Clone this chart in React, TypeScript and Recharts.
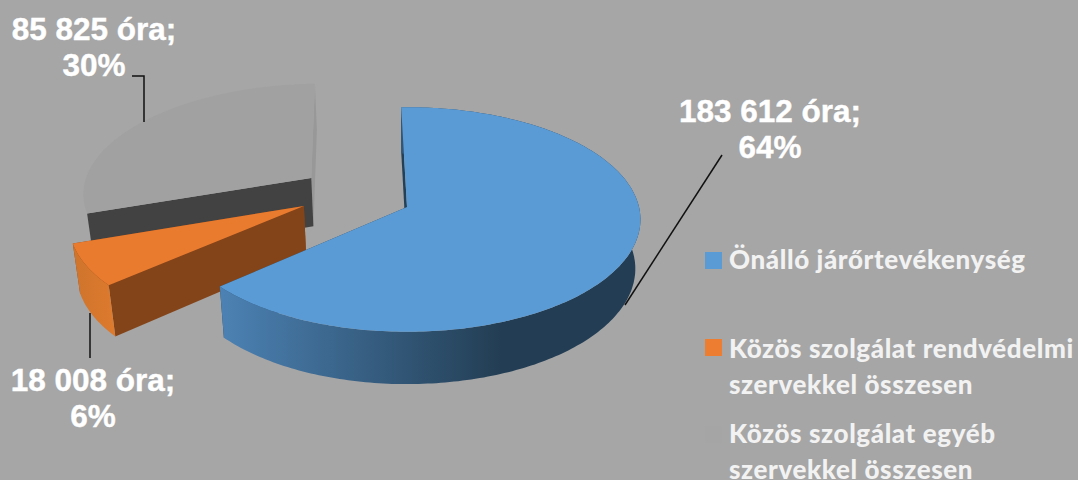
import React from 'react';
import { PieChart, Pie, Legend } from 'recharts';

const categories = [
  'Önálló járőrtevékenység',
  'Közös szolgálat rendvédelmi\nszervekkel összesen',
  'Közös szolgálat egyéb\nszervekkel összesen',
];
const hours = [183612, 18008, 85825];
const colors = ['#5b9bd5', '#ed7d31', '#a5a5a5'];

// drawn back to front, going counter-clockwise
const pieData = [2, 1, 0].map((i) => ({ name: categories[i], value: hours[i], fill: colors[i] }));

const PERSPECTIVE = 0.111;
const TILT = 0.478;
const DEPTH = 49;
const BOTTOM_SCALE = 0.978;

// per slice look: explode offset in disc units, side colours
const sliceLook: Record<string, any> = {
  [categories[0]]: { dx: 0, dy: 0, top: '#5b9bd5', outer: 'url(#blueWall)', first: '#234056', last: '#234056' },
  [categories[1]]: { dx: -0.445, dy: -0.01, top: '#e97b2f', outer: 'url(#orangeWall)', first: '#84441a', last: '#84441a' },
  [categories[2]]: { dx: -0.425, dy: -0.269, top: '#a1a1a1', outer: '#a9a9a9', first: '#989898', last: '#424242', outerFirst: true },
};

const labelLook: Record<string, any> = {
  [categories[0]]: { x: 770, y: 122, leader: '722,155 625,305' },
  [categories[1]]: { x: 93, y: 391, leader: '90,313 90,358' },
  [categories[2]]: { x: 94, y: 40, leader: '132,76 144,76 144,122' },
};

const Slice3D = (props: any) => {
  const { cx, cy, outerRadius: R, startAngle, endAngle, name } = props;
  const look = sliceLook[name];

  const top = (X: number, Y: number) => {
    const f = 1 / (1 - PERSPECTIVE * (Y + look.dy));
    return [cx + R * (X + look.dx) * f, cy + TILT * R * (Y + look.dy) * f, f];
  };
  const bottom = (X: number, Y: number) => {
    const [x, y, f] = top(X, Y);
    return [cx + (x - cx) * BOTTOM_SCALE, cy + (y - cy) * BOTTOM_SCALE + DEPTH * f, f];
  };
  const onRim = (a: number) => [Math.cos((a * Math.PI) / 180), -Math.sin((a * Math.PI) / 180)];

  const steps = Math.max(2, Math.ceil(Math.abs(endAngle - startAngle)));
  const rim: number[][] = [];
  for (let i = 0; i <= steps; i++) {
    rim.push(onRim(startAngle + ((endAngle - startAngle) * i) / steps));
  }

  const toPath = (pts: number[][]) => 'M' + pts.map((p) => `${p[0].toFixed(1)},${p[1].toFixed(1)}`).join('L') + 'Z';
  const first = rim[0];
  const last = rim[rim.length - 1];

  const firstWall = toPath([top(0, 0), top(first[0], first[1]), bottom(first[0], first[1]), bottom(0, 0)]);
  const lastWall = toPath([top(0, 0), top(last[0], last[1]), bottom(last[0], last[1]), bottom(0, 0)]);
  const outerWall = toPath([
    ...rim.map((p) => top(p[0], p[1])),
    ...rim.slice().reverse().map((p) => bottom(p[0], p[1])),
  ]);
  const topFace = toPath([top(0, 0), ...rim.map((p) => top(p[0], p[1]))]);

  return (
    <g>
      {look.outerFirst && <path d={outerWall} fill={look.outer} />}
      <path d={firstWall} fill={look.first} />
      <path d={lastWall} fill={look.last} />
      {!look.outerFirst && <path d={outerWall} fill={look.outer} />}
      <path d={topFace} fill={look.top} />
    </g>
  );
};

const SliceLabel = (props: any) => {
  const { name, value, percent } = props;
  const look = labelLook[name];
  const amount = String(value).replace(/\B(?=(\d{3})+(?!\d))/g, ' ');
  return (
    <g>
      <polyline points={look.leader} fill="none" stroke="#111" strokeWidth={1.5} />
      <text x={look.x} y={look.y} textAnchor="middle" fill="#fff" stroke="#fff" strokeWidth={0.4} fontFamily="'Liberation Sans'" fontWeight={700} fontSize={31.5}>
        <tspan x={look.x}>{amount} óra;</tspan>
        <tspan x={look.x} dy={36}>{Math.round(percent * 100)}%</tspan>
      </text>
    </g>
  );
};

const legendRows = [
  { top: 241, swatch: 11 },
  { top: 330, swatch: 9 },
  { top: 415, swatch: 11 },
];

const LegendBlock = () => (
  <div style={{ position: 'relative', width: 372, height: 238 }}>
    {categories.map((c, i) => (
      <div key={c} style={{ position: 'absolute', left: 0, top: legendRows[i].top - 241 }}>
        <div style={{ position: 'absolute', left: 0, top: legendRows[i].swatch, width: 17, height: 17, background: colors[i] }} />
        <div
          style={{
            position: 'absolute',
            left: 24,
            top: 0,
            whiteSpace: 'pre',
            color: '#f2f2f2',
            fontFamily: 'Lato',
            fontWeight: 900,
            fontSize: 26,
            letterSpacing: 0.6,
            lineHeight: '36px',
          }}
        >
          {c}
        </div>
      </div>
    ))}
  </div>
);

export default function App() {
  return (
    <div style={{ position: 'absolute', left: 0, top: 0, width: 1078, height: 480, background: '#a6a6a6', overflow: 'hidden' }}>
      <PieChart width={1078} height={480} margin={{ top: 0, right: 0, bottom: 0, left: 0 }}>
        <defs>
          <linearGradient id="blueWall" gradientUnits="userSpaceOnUse" x1={220} x2={500} y1={0} y2={0}>
            <stop offset="0" stopColor="#4c82b4" />
            <stop offset="1" stopColor="#233e54" />
          </linearGradient>
          <linearGradient id="orangeWall" gradientUnits="userSpaceOnUse" x1={73} x2={112} y1={0} y2={0}>
            <stop offset="0" stopColor="#cf742c" />
            <stop offset="1" stopColor="#dc7a2e" />
          </linearGradient>
        </defs>
        <Pie
          data={pieData}
          dataKey="value"
          nameKey="name"
          cx={407}
          cy={207}
          outerRadius={232}
          startAngle={-268.4}
          endAngle={91.6}
          stroke="none"
          shape={Slice3D}
          label={SliceLabel}
          labelLine={false}
          isAnimationActive={false}
          rootTabIndex={-1}
        />
        <Legend
          layout="vertical"
          align="right"
          verticalAlign="top"
          content={LegendBlock}
          wrapperStyle={{ position: 'absolute', left: 705, top: 241, width: 372 }}
        />
      </PieChart>
    </div>
  );
}
